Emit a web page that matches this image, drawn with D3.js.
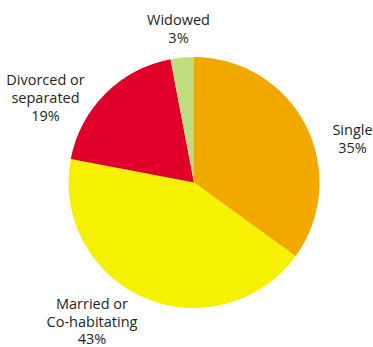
<!DOCTYPE html>
<html>
<head>
<meta charset="utf-8">
<script src="https://cdn.jsdelivr.net/npm/d3@7"></script>
<style>
  html, body { margin: 0; padding: 0; background: #fff; }
  text { font-family: "Open Sans", "DejaVu Sans", sans-serif; font-size: 14.5px; fill: #231f20; }
</style>
</head>
<body>
<svg id="chart" width="373" height="347"></svg>
<script>
// Marital status shares (percent), clockwise from 12 o'clock
const categories = ["Single", "Married or Co-habitating", "Divorced or separated", "Widowed"];
const values = [35, 43, 19, 3];
const colors = ["#f1a900", "#f6f100", "#e0002a", "#bfdd7f"];
// Label lines and their anchor positions (centre x, first baseline) around the pie
const labelLines = [
  ["Single", "35%"],
  ["Married or", "Co-habitating", "43%"],
  ["Divorced or", "separated", "19%"],
  ["Widowed", "3%"]
];
const labelPos = [[352.5, 134.5], [92, 309], [45.5, 84.5], [178.5, 24.5]];

const svg = d3.select("#chart");
const cx = 194, cy = 182.5, r = 125.5;

const pie = d3.pie().sort(null).value(d => d.value);
const arc = d3.arc().innerRadius(0).outerRadius(r);
const data = categories.map((c, i) => ({ name: c, value: values[i], color: colors[i] }));

const g = svg.append("g").attr("transform", `translate(${cx},${cy})`);
g.selectAll("path")
  .data(pie(data))
  .join("path")
  .attr("d", arc)
  .attr("fill", d => d.data.color);

const lineH = 18;
labelLines.forEach((lines, i) => {
  const t = svg.append("text")
    .attr("text-anchor", "middle")
    .attr("x", labelPos[i][0])
    .attr("y", labelPos[i][1]);
  lines.forEach((ln, j) => {
    t.append("tspan")
      .attr("x", labelPos[i][0])
      .attr("dy", j === 0 ? 0 : (i === 1 ? 17.5 : lineH))
      .text(ln);
  });
});
</script>
</body>
</html>
